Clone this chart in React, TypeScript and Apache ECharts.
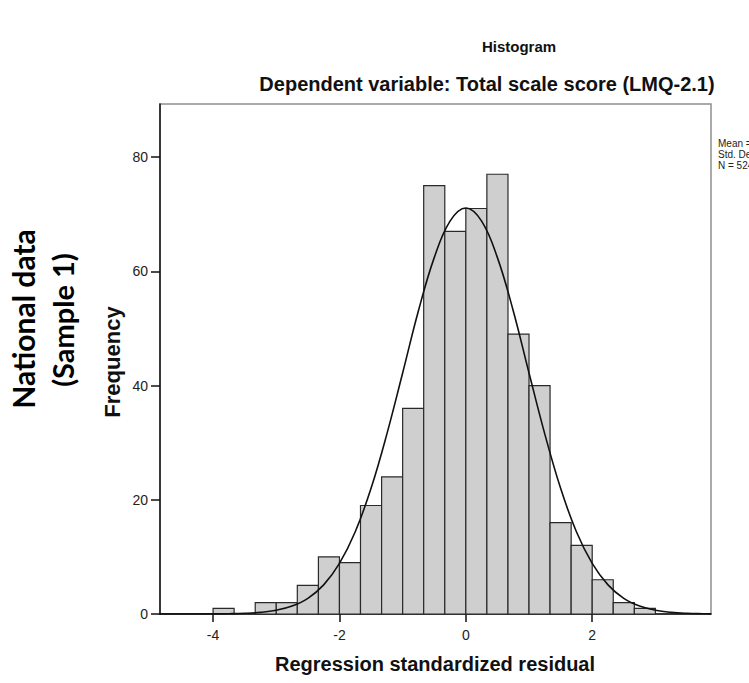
import React, { useEffect, useRef } from "react";
import * as echarts from "echarts";

// Histogram bins (lower edge, upper edge, frequency)
const binStarts = [-4, -3.667, -3.333, -3, -2.667, -2.333, -2, -1.667, -1.333, -1, -0.667, -0.333, 0, 0.333, 0.667, 1, 1.333, 1.667, 2, 2.333, 2.667];
const binEnds = [-3.667, -3.333, -3, -2.667, -2.333, -2, -1.667, -1.333, -1, -0.667, -0.333, 0, 0.333, 0.667, 1, 1.333, 1.667, 2, 2.333, 2.667, 3];
const frequencies = [1, 0, 2, 2, 5, 10, 9, 19, 24, 36, 75, 67, 71, 77, 49, 40, 16, 12, 6, 2, 1];

// Normal curve
const curveX = [-4.84, -4.5, -4.25, -4, -3.75, -3.5, -3.25, -3, -2.75, -2.5, -2.25, -2, -1.75, -1.5, -1.25, -1, -0.75, -0.5, -0.25, 0, 0.25, 0.5, 0.75, 1, 1.25, 1.5, 1.75, 2, 2.25, 2.5, 2.75, 3, 3.25, 3.5, 3.75, 3.88];
const curveY = [0, 0, 0.01, 0.02, 0.05, 0.12, 0.29, 0.66, 1.39, 2.74, 5.1, 8.86, 14.4, 22.0, 31.5, 42.2, 53.1, 62.4, 68.8, 71.1, 68.8, 62.4, 53.1, 42.2, 31.5, 22.0, 14.4, 8.86, 5.1, 2.74, 1.39, 0.66, 0.29, 0.12, 0.05, 0.03];

const xTicks = [-4, -2, 0, 2];
const yTicks = [0, 20, 40, 60, 80];

const titleText = "Histogram";
const subtitleText = "Dependent variable: Total scale score (LMQ-2.1)";
const xName = "Regression standardized residual";
const yName = "Frequency";
const sideLabel1 = "National data";
const sideLabel2 = "(Sample 1)";
const statLines = ["Mean = -2.08E-16", "Std. Dev. = 0.998", "N = 524"];

export default function App() {
  const ref = useRef<HTMLDivElement>(null);
  useEffect(() => {
    if (!ref.current) return;
    const chart = echarts.init(ref.current, null, { renderer: "svg" });
    const bars = binStarts.map((s, i) => [s, binEnds[i], frequencies[i]]);
    const curve = curveX.map((x, i) => [x, curveY[i]]);
    const font = "'Liberation Sans', Arial, sans-serif";
    chart.setOption({
      animation: false,
      backgroundColor: "#ffffff",
      grid: {
        left: 160,
        top: 104,
        right: 38,
        bottom: 69,
        show: true,
        borderColor: "#8f8f8f",
        borderWidth: 1.5,
      },
      xAxis: {
        type: "value",
        min: -4.84,
        max: 3.88,
        splitLine: { show: false },
        axisLine: { show: true, onZero: false, lineStyle: { color: "#111", width: 1.5 } },
        axisTick: { show: true, length: 8, customValues: xTicks, lineStyle: { color: "#111", width: 1.5 } },
        axisLabel: { customValues: xTicks, color: "#222", fontSize: 14, fontFamily: font, margin: 14 },
      },
      yAxis: {
        type: "value",
        min: 0,
        max: 89.3,
        splitLine: { show: false },
        axisLine: { show: true, onZero: false, lineStyle: { color: "#111", width: 1.5 } },
        axisTick: { show: true, length: 9, customValues: yTicks, lineStyle: { color: "#111", width: 1.5 } },
        axisLabel: { customValues: yTicks, color: "#222", fontSize: 14, fontFamily: font, margin: 12 },
      },
      series: [
        {
          type: "custom",
          data: bars,
          renderItem: (params: any, api: any) => {
            const x0 = api.value(0);
            const x1 = api.value(1);
            const h = api.value(2);
            if (!h) return null;
            const p0 = api.coord([x0, h]);
            const p1 = api.coord([x1, 0]);
            return {
              type: "rect",
              shape: { x: p0[0], y: p0[1], width: p1[0] - p0[0], height: p1[1] - p0[1] },
              style: { fill: "#cfcfcf", stroke: "#2a2a2a", lineWidth: 1.2 },
            };
          },
          encode: { x: [0, 1], y: 2 },
          z: 2,
        },
        {
          type: "line",
          data: curve,
          smooth: 0.4,
          showSymbol: false,
          lineStyle: { color: "#111", width: 1.6 },
          z: 3,
        },
      ],
      graphic: [
        { type: "text", x: 519, y: 46, style: { text: titleText, font: `bold 15px ${font}`, fill: "#111", textAlign: "center", textVerticalAlign: "middle" } },
        { type: "text", x: 487, y: 84, style: { text: subtitleText, font: `bold 20px ${font}`, fill: "#111", textAlign: "center", textVerticalAlign: "middle" } },
        { type: "text", x: 435, y: 664, style: { text: xName, font: `bold 20px ${font}`, fill: "#111", textAlign: "center", textVerticalAlign: "middle" } },
        { type: "text", x: 112, y: 362, rotation: Math.PI / 2, style: { text: yName, font: `bold 22px ${font}`, fill: "#111", textAlign: "center", textVerticalAlign: "middle" } },
        { type: "text", x: 23, y: 319, rotation: Math.PI / 2, style: { text: sideLabel1, font: `bold 30px Lato, 'Open Sans', sans-serif`, fill: "#000", textAlign: "center", textVerticalAlign: "middle" } },
        { type: "text", x: 62, y: 320, rotation: Math.PI / 2, style: { text: sideLabel2, font: `bold 29px Lato, 'Open Sans', sans-serif`, fill: "#000", textAlign: "center", textVerticalAlign: "middle" } },
        ...statLines.map((t, i) => ({
          type: "text",
          x: 718,
          y: 143 + i * 11,
          style: { text: t, font: `10px ${font}`, fill: "#222", textAlign: "left", textVerticalAlign: "middle" },
        })),
      ],
    });
    return () => chart.dispose();
  }, []);
  return <div ref={ref} style={{ position: "absolute", left: 0, top: 0, width: 749, height: 683, background: "#fff" }} />;
}
